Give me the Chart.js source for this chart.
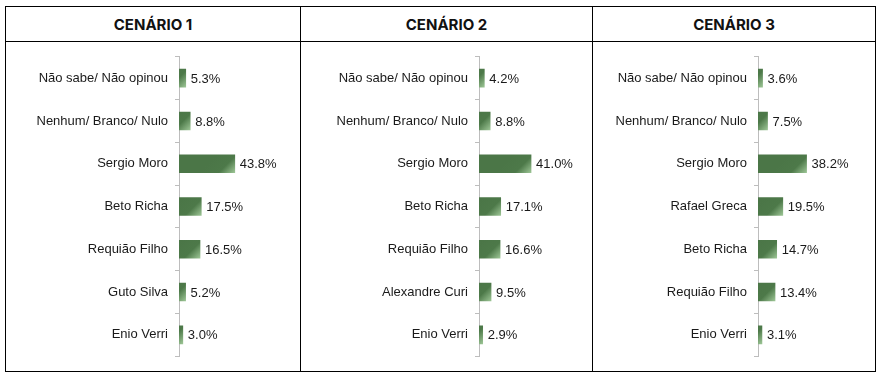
<!DOCTYPE html>
<html>
<head>
<meta charset="utf-8">
<script src="https://cdn.jsdelivr.net/npm/chart.js@4.4.1/dist/chart.umd.min.js"></script>
<style>
  body { margin: 0; background: #fff; width: 882px; height: 378px; position: relative; overflow: hidden; }
  .line { position: absolute; background: #000; }
  .head { position: absolute; top: 7px; height: 35px; line-height: 36px; text-align: center;
          font-family: Inter, "Noto Sans", sans-serif; font-weight: 700; font-size: 15px; color: #111; }
  .box { position: absolute; top: 42px; height: 329px; }
</style>
</head>
<body>
<div class="line" style="left:5px;top:6px;width:871px;height:1px"></div>
<div class="line" style="left:5px;top:41px;width:871px;height:1px"></div>
<div class="line" style="left:5px;top:371px;width:871px;height:1px"></div>
<div class="line" style="left:5px;top:6px;width:1px;height:366px"></div>
<div class="line" style="left:300px;top:6px;width:1px;height:366px"></div>
<div class="line" style="left:592px;top:6px;width:1px;height:366px"></div>
<div class="line" style="left:875px;top:6px;width:1px;height:366px"></div>

<div class="head" style="left:6px;width:294px">CENÁRIO 1</div>
<div class="head" style="left:301px;width:291px">CENÁRIO 2</div>
<div class="head" style="left:593px;width:282px">CENÁRIO 3</div>

<div class="box" style="left:6px;width:294px"><canvas id="c1"></canvas></div>
<div class="box" style="left:301px;width:291px"><canvas id="c2"></canvas></div>
<div class="box" style="left:593px;width:282px"><canvas id="c3"></canvas></div>

<script>
// dados por cenário
var labels1 = ["Não sabe/ Não opinou", "Nenhum/ Branco/ Nulo", "Sergio Moro", "Beto Richa", "Requião Filho", "Guto Silva", "Enio Verri"];
var values1 = [5.3, 8.8, 43.8, 17.5, 16.5, 5.2, 3.0];

var labels2 = ["Não sabe/ Não opinou", "Nenhum/ Branco/ Nulo", "Sergio Moro", "Beto Richa", "Requião Filho", "Alexandre Curi", "Enio Verri"];
var values2 = [4.2, 8.8, 41.0, 17.1, 16.6, 9.5, 2.9];

var labels3 = ["Não sabe/ Não opinou", "Nenhum/ Branco/ Nulo", "Sergio Moro", "Rafael Greca", "Beto Richa", "Requião Filho", "Enio Verri"];
var values3 = [3.6, 7.5, 38.2, 19.5, 14.7, 13.4, 3.1];

var FONT = '"Liberation Sans", Arial, sans-serif';

// rótulo de valor à direita da barra
var valueLabels = {
	id: 'valueLabels',
	afterDatasetsDraw: function(chart) {
		var ctx = chart.ctx;
		var meta = chart.getDatasetMeta(0);
		ctx.save();
		ctx.font = '13px ' + FONT;
		ctx.fillStyle = '#1a1a1a';
		ctx.textBaseline = 'middle';
		meta.data.forEach(function(bar, i) {
			var v = chart.data.datasets[0].data[i];
			ctx.fillText(v.toFixed(1) + '%', bar.x + 5, bar.y + 1);
		});
		ctx.restore();
	}
};

// brilho diagonal no canto inferior direito
function barFill(context) {
	var chart = context.chart;
	if (!chart.chartArea || context.type !== 'data') return '#4b7647';
	var xs = chart.scales.x, ys = chart.scales.y;
	var x1 = xs.getPixelForValue(context.raw);
	var yc = ys.getPixelForValue(context.dataIndex);
	var g = chart.ctx.createLinearGradient(x1 - 18, yc - 9, x1, yc + 9);
	g.addColorStop(0, '#4b7647');
	g.addColorStop(0.55, '#4d7949');
	g.addColorStop(1, '#9cc595');
	return g;
}

function makeChart(id, labels, values, axisWidth, xMax) {
	return new Chart(document.getElementById(id).getContext('2d'), {
		type: 'bar',
		data: {
			labels: labels,
			datasets: [{
				data: values,
				backgroundColor: barFill,
				borderWidth: 0,
				barThickness: 18
			}]
		},
		options: {
			indexAxis: 'y',
			responsive: true,
			maintainAspectRatio: false,
			animation: false,
			layout: { padding: { top: 7, bottom: 9, left: 0, right: 0 } },
			plugins: { legend: { display: false }, tooltip: { enabled: false } },
			scales: {
				x: { display: false, min: 0, max: xMax },
				y: {
					afterFit: function(scale) { scale.width = axisWidth; },
					grid: { drawOnChartArea: false, drawTicks: true, tickLength: 4, color: '#bdbdbd' },
					border: { display: true, color: '#bdbdbd', width: 1 },
					ticks: { color: '#1a1a1a', font: { family: FONT, size: 13 }, padding: 7, autoSkip: false }
				}
			}
		},
		plugins: [valueLabels]
	});
}

makeChart('c1', labels1, values1, 173, 95);
makeChart('c2', labels2, values2, 178, 89);
makeChart('c3', labels3, values3, 165, 92);
</script>
</body>
</html>
